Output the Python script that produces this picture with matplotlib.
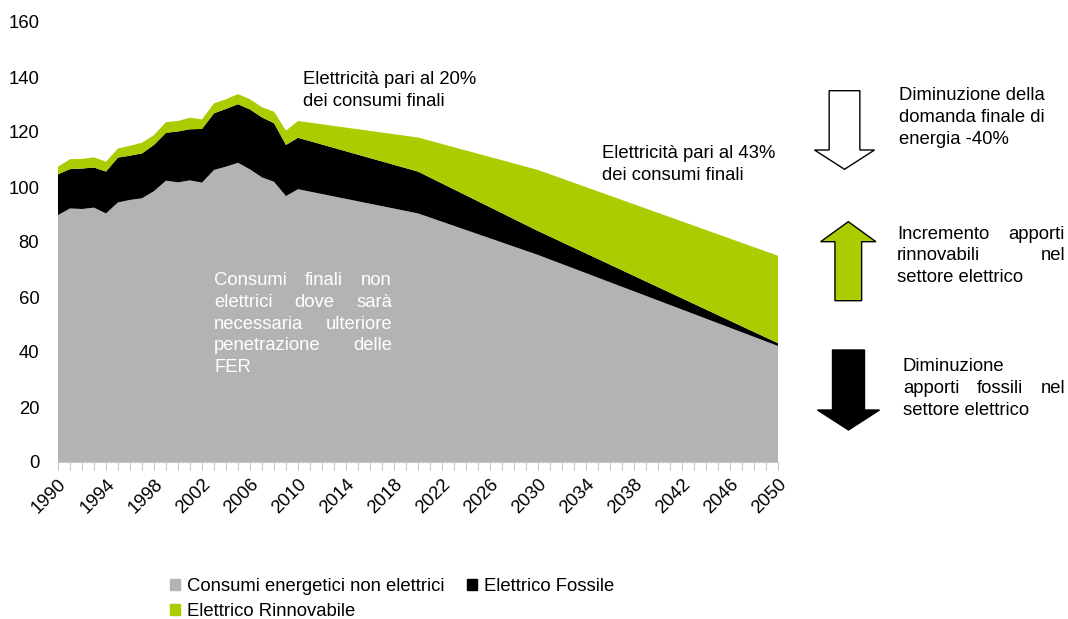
import matplotlib.pyplot as plt
import matplotlib.patches as mpatches
from matplotlib.patches import Polygon

plt.rcParams['font.family'] = ['Liberation Sans', 'DejaVu Sans']

years = list(range(1990, 2011)) + [2020, 2030, 2050]
non_elettrici = [89.8, 92.2, 92.0, 92.5, 90.4, 94.4, 95.3, 95.9, 98.5, 102.3, 101.7,
                 102.4, 101.6, 106.2, 107.4, 108.8, 106.4, 103.5, 101.9, 96.7, 99.2,
                 90.4, 75.3, 42.2]
fossile = [14.8, 14.3, 14.7, 14.6, 15.2, 16.3, 16.1, 16.3, 16.8, 17.4, 18.5,
           18.6, 19.5, 20.6, 21.0, 21.3, 21.8, 21.8, 21.3, 18.6, 18.7,
           15.2, 8.7, 1.0]
rinnovabile = [2.8, 3.6, 3.5, 3.7, 3.6, 3.3, 3.6, 3.9, 3.6, 3.9, 3.8,
               4.2, 3.5, 3.6, 3.5, 3.7, 3.7, 3.7, 4.2, 5.2, 6.1,
               12.4, 22.2, 31.8]
labels = ['Consumi energetici non elettrici', 'Elettrico Fossile', 'Elettrico Rinnovabile']

GREY = '#B3B3B3'
GREEN = '#AACC00'
W, H = 1068, 619
FS = 13.3

fig = plt.figure(figsize=(W / 100, H / 100), dpi=100)
ax = fig.add_axes([58 / W, 1 - 462 / H, 720 / W, 440 / H])

ax.stackplot(years, non_elettrici, fossile, rinnovabile,
             colors=[GREY, 'black', GREEN], linewidth=0)
ax.set_xlim(1990, 2050)
ax.set_ylim(0, 160)

ax.set_yticks(range(0, 161, 20))
ax.tick_params(axis='y', length=0, pad=13.5, labelsize=FS)
all_years = list(range(1990, 2051))
ax.set_xticks(all_years)
ax.set_xticklabels([str(y) if (y - 1990) % 4 == 0 else '' for y in all_years],
                   rotation=45, ha='right', rotation_mode='anchor', fontsize=FS)
ax.tick_params(axis='x', length=6, color='#C8C8C8', pad=4)
for s in ['top', 'right', 'left']:
    ax.spines[s].set_visible(False)
ax.spines['bottom'].set_color('#C8C8C8')


def px(x, y):
    return x / W, 1 - y / H


def ftext(x, y, s, **kw):
    fx, fy = px(x, y)
    return fig.text(fx, fy, s, fontsize=FS, va='center', **kw)


renderer = fig.canvas.get_renderer()


def justified(lines, x0, x1, y0, dy, color='black', justify=True):
    for i, line in enumerate(lines):
        y = y0 + i * dy
        words = line.split()
        if not justify or i == len(lines) - 1 or len(words) == 1:
            ftext(x0, y, line, color=color)
            continue
        texts = [ftext(x0, y, w, color=color) for w in words]
        widths = [t.get_window_extent(renderer).width for t in texts]
        gap = (x1 - x0 - sum(widths)) / (len(words) - 1)
        x = x0
        for t, w in zip(texts, widths):
            t.set_x(x / W)
            x += w + gap


# annotations
justified(['Elettricità pari al 20%', 'dei consumi finali'], 303, 0, 79.5, 21.5, justify=False)
justified(['Elettricità pari al 43%', 'dei consumi finali'], 602, 0, 153.5, 21.5, justify=False)
justified(['Consumi finali non', 'elettrici dove sarà', 'necessaria ulteriore',
           'penetrazione delle', 'FER'], 214, 392, 280.7, 21.7, color='white')

justified(['Diminuzione della', 'domanda finale di', 'energia -40%'],
          899, 0, 95, 22, justify=False)
justified(['Incremento apporti', 'rinnovabili nel', 'settore elettrico'],
          897, 1065, 234, 21.7)
justified(['Diminuzione', 'apporti fossili nel', 'settore elettrico'],
          903, 1065, 366.7, 21.7)


def arrow(xc, y_tail, y_base, y_tip, shaft_w, head_w, fc):
    pts = [(xc - shaft_w / 2, y_tail), (xc + shaft_w / 2, y_tail),
           (xc + shaft_w / 2, y_base), (xc + head_w / 2, y_base),
           (xc, y_tip), (xc - head_w / 2, y_base), (xc - shaft_w / 2, y_base)]
    poly = Polygon([px(x, y) for x, y in pts], closed=True, facecolor=fc,
                   edgecolor='black', linewidth=1.0, transform=fig.transFigure)
    fig.patches.append(poly)


arrow(844.5, 90.7, 150, 169.3, 30.7, 60, 'white')
arrow(848.3, 300.7, 241.7, 221.7, 26.7, 55.3, GREEN)
arrow(848.5, 350, 410, 430, 32, 62, 'black')

handles = [mpatches.Patch(color=GREY, label=labels[0]),
           mpatches.Patch(color=GREEN, label=labels[2]),
           mpatches.Patch(color='black', label=labels[1])]
fig.legend(handles=handles, ncol=2, frameon=False, fontsize=FS,
           loc='upper left', bbox_to_anchor=px(170, 578),
           handlelength=0.55, handleheight=0.55, handletextpad=0.35,
           columnspacing=1.25, labelspacing=0.45, borderpad=0, borderaxespad=0)

plt.savefig('out.png', dpi=100)
plt.close()
